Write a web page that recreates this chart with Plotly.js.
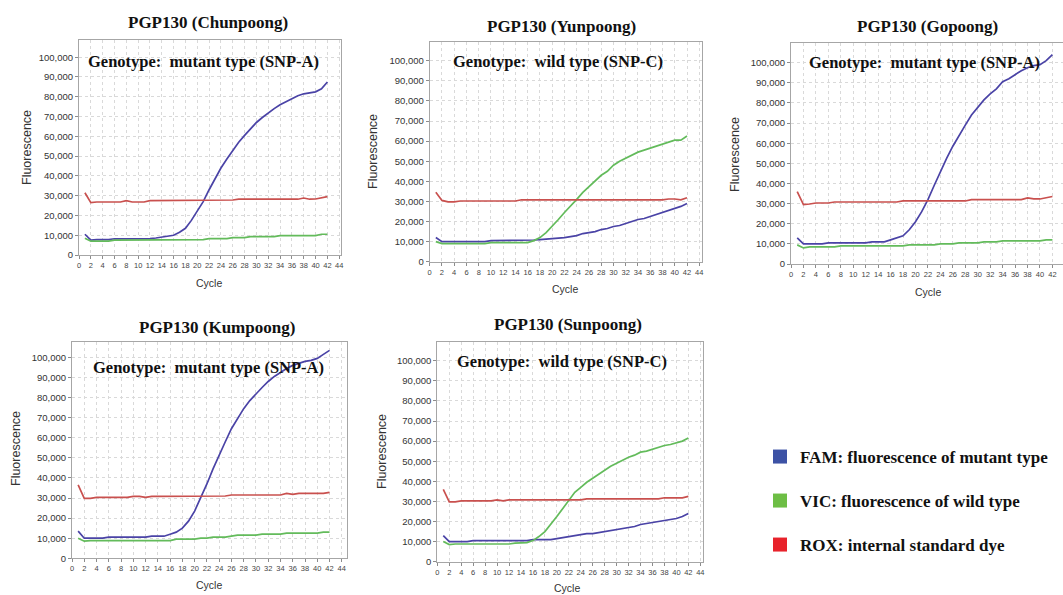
<!DOCTYPE html>
<html>
<head>
<meta charset="utf-8">
<script src="https://cdn.plot.ly/plotly-3.0.1.min.js"></script>
<style>html,body{margin:0;padding:0;background:#fff;}#chart{width:1063px;height:595px;}</style>
</head>
<body>
<div id="chart"></div>
<script>
// ---------- data ----------
const cycles = [1,2,3,4,5,6,7,8,9,10,11,12,13,14,15,16,17,18,19,20,21,22,23,24,25,26,27,28,29,30,31,32,33,34,35,36,37,38,39,40,41,42];

const panelTitles = ["PGP130 (Chunpoong)", "PGP130 (Yunpoong)", "PGP130 (Gopoong)", "PGP130 (Kumpoong)", "PGP130 (Sunpoong)"];
const genotypes = ["Genotype:&nbsp; mutant type (SNP-A)", "Genotype:&nbsp; wild type (SNP-C)", "Genotype:&nbsp; mutant type (SNP-A)", "Genotype:&nbsp; mutant type (SNP-A)", "Genotype:&nbsp; wild type (SNP-C)"];
const legendNames = ["FAM:&nbsp;fluorescence of mutant type", "VIC:&nbsp;fluorescence of wild type", "ROX:&nbsp;internal standard dye"];

// Chunpoong
const chunFAM = [10500,7500,7800,7800,7800,8200,8200,8200,8200,8200,8200,8300,8600,9000,9400,10000,11500,13500,17500,22000,27000,33000,38500,44000,48500,53000,57000,60500,64000,67000,69500,72000,74000,76000,77500,79000,80500,81500,82000,82500,84000,87500];
const chunVIC = [8500,7000,7000,7000,7000,7500,7500,7500,7500,7500,7500,7500,7500,7500,7500,7500,7800,7800,7800,7800,7800,8300,8300,8300,8300,8800,8800,8800,9300,9300,9300,9300,9300,9800,9800,9800,9800,9800,9800,9800,10500,10500];
const chunROX = [31500,26500,26800,26800,26800,26800,26800,27500,26800,26800,26800,27500,27500,27500,27500,27500,27500,27500,27500,27500,27500,27500,27500,27500,27500,27800,28200,28200,28200,28200,28200,28200,28200,28200,28200,28200,28200,28800,28200,28300,28800,29500];

// Yunpoong
const yunFAM = [12000,10000,10000,10000,10000,10000,10000,10000,10000,10500,10500,10500,10500,10500,10500,10500,10800,11000,11200,11500,11500,12000,12500,13000,14000,14500,15000,16000,16500,17500,18000,19000,20000,21000,21500,22500,23500,24500,25500,26500,27500,29000];
const yunVIC = [10000,9000,9000,9000,9000,9000,9000,9000,9000,9500,9500,9500,9500,9500,9500,9500,10500,12000,14500,17500,21000,24500,27500,31000,34500,37500,40000,43000,45000,48000,50000,51500,53000,54500,55500,56500,57500,58500,59500,60500,60500,62500];
const yunROX = [34500,30500,29800,29800,30200,30200,30200,30200,30200,30200,30200,30200,30200,30200,30800,30800,30800,30800,30800,30800,30800,30800,30800,30800,30800,30800,30800,30800,30800,30800,30800,30800,30800,30800,30800,30800,30800,30800,31200,31200,30800,31800];

// Gopoong
const goFAM = [13000,10000,10000,10000,10000,10500,10500,10500,10500,10500,10500,10500,11000,11000,11000,12000,13000,14000,17000,21000,26000,32000,39000,46000,52500,58500,64000,69000,74000,78000,81500,84500,87000,90500,92000,94000,96000,97500,98500,99000,101000,104000];
const goVIC = [9500,8000,8500,8500,8500,8500,8500,9000,9000,9000,9000,9000,9000,9000,9000,9000,9000,9000,9500,9500,9500,9500,9500,10000,10000,10000,10500,10500,10500,10500,11000,11000,11000,11500,11500,11500,11500,11500,11500,11500,12000,12000];
const goROX = [36000,29500,29800,30300,30300,30300,30800,30800,30800,30800,30800,30800,30800,30800,30800,30800,30800,31300,31300,31300,31300,31300,31300,31300,31300,31300,31300,31300,32000,32000,32000,32000,32000,32000,32000,32000,32000,32800,32300,32300,32800,33500];

// Kumpoong
const kumFAM = [13500,10000,10000,10000,10000,10500,10500,10500,10500,10500,10500,10500,11000,11000,11000,12000,13000,15000,18500,23500,30000,37000,44500,51500,58000,64500,69500,74500,78500,82000,85000,88000,90500,92500,94500,96000,97000,98000,98500,99500,101500,103500];
const kumVIC = [10000,8500,8800,8800,8800,8800,8800,8800,8800,8800,8800,8800,8800,8800,8800,8800,9500,9500,9500,9500,10000,10000,10500,10500,10500,11000,11500,11500,11500,11500,12000,12000,12000,12000,12500,12500,12500,12500,12500,12500,13000,13000];
const kumROX = [36500,29800,29800,30300,30300,30300,30300,30300,30300,30800,30800,30300,30800,30800,30800,30800,30800,30800,30800,30800,30800,30800,30800,30800,31000,31500,31500,31500,31500,31500,31500,31500,31500,31500,32300,31800,32300,32300,32300,32300,32300,32800];

// Sunpoong
const sunFAM = [13000,10000,10000,10000,10000,10500,10500,10500,10500,10500,10500,10500,10500,10500,10500,11000,11000,11000,11000,11500,12000,12500,13000,13500,14000,14000,14500,15000,15500,16000,16500,17000,17500,18500,19000,19500,20000,20500,21000,21500,22500,24000];
const sunVIC = [10000,8500,8800,8800,8800,8800,8800,8800,8800,8800,8800,8800,9200,9500,9500,10500,12500,15000,18500,22500,26500,30500,34500,37000,39500,41500,43500,45500,47500,49000,50500,52000,53000,54500,55000,56000,57000,57800,58300,59000,60000,61500];
const sunROX = [36000,29800,29800,30300,30300,30300,30300,30300,30300,30800,30300,30800,30800,30800,30800,30800,30800,30800,30800,30800,30800,30800,30800,30800,31300,31300,31300,31300,31300,31300,31300,31300,31300,31300,31300,31300,31300,31800,31800,31800,31800,32500];

// ---------- layout helpers ----------
const W = 1063, H = 595;
const fx = p => p / W;
const fy = p => 1 - p / H;

const lineColors = {FAM: '#4a43a6', VIC: '#63bb5b', ROX: '#c9504e'};
const legendColors = ['#3c52a5', '#6dbe45', '#e8222b'];

// panel geometry in pixels: [left, right, top, bottom], x range max, y range max
const panels = [
  {px: [79, 341, 40, 255], xmax: 44.3, ymax: 108700, fam: chunFAM, vic: chunVIC, rox: chunROX,
   title: [208, 23], geno: [203, 62], ylab: [27, 148], xlab: [209, 283]},
  {px: [429.7, 701.7, 41.7, 261.7], xmax: 44.4, ymax: 109450, fam: yunFAM, vic: yunVIC, rox: yunROX,
   title: [561, 27], geno: [558, 62], ylab: [373, 152], xlab: [565, 289]},
  {px: [791, 1063, 43.3, 264], xmax: 43.7, ymax: 109600, fam: goFAM, vic: goVIC, rox: goROX,
   title: [927, 27], geno: [924, 63], ylab: [735, 155], xlab: [928, 292]},
  {px: [72, 346.7, 341.7, 558.3], xmax: 44.8, ymax: 107800, fam: kumFAM, vic: kumVIC, rox: kumROX,
   title: [217, 327], geno: [208, 367], ylab: [16, 449], xlab: [209, 585]},
  {px: [437.3, 703.3, 341.7, 561.7], xmax: 44.5, ymax: 109450, fam: sunFAM, vic: sunVIC, rox: sunROX,
   title: [568, 325], geno: [562, 362], ylab: [382, 452], xlab: [567, 588]}
];

const traces = [];
const layout = {
  width: W, height: H,
  margin: {l: 0, r: 0, t: 0, b: 0},
  paper_bgcolor: '#ffffff',
  plot_bgcolor: '#ffffff',
  showlegend: true,
  annotations: []
};

const serif = 'Liberation Serif, Times New Roman, serif';
const sans = 'Liberation Sans, Arial, sans-serif';

panels.forEach((p, i) => {
  const n = i === 0 ? '' : String(i + 1);
  const xa = 'x' + n, ya = 'y' + n;
  [['FAM', p.fam], ['VIC', p.vic], ['ROX', p.rox]].forEach(([k, vals]) => {
    traces.push({
      type: 'scatter', mode: 'lines', x: cycles, y: vals,
      xaxis: xa, yaxis: ya, showlegend: false, name: k,
      line: {color: lineColors[k], width: 1.7}
    });
  });
  const common = {
    showgrid: true, gridcolor: '#d9d9d9', griddash: 'dot', gridwidth: 1,
    showline: true, linecolor: '#a6a6a6', linewidth: 1, mirror: true,
    ticks: 'outside', ticklen: 3, tickcolor: '#8c8c8c',
    zeroline: false, fixedrange: true
  };
  layout['xaxis' + n] = Object.assign({}, common, {
    domain: [fx(p.px[0]), fx(p.px[1])], anchor: ya,
    range: [0, p.xmax], tick0: 0, dtick: 2,
    tickfont: {family: sans, size: 7.5, color: '#444'}
  });
  layout['yaxis' + n] = Object.assign({}, common, {
    domain: [fy(p.px[3]), fy(p.px[2])], anchor: xa,
    range: [0, p.ymax], tick0: 0, dtick: 10000, tickformat: ',d',
    tickfont: {family: sans, size: 9.5, color: '#333'}
  });
  layout.annotations.push(
    {text: panelTitles[i], xref: 'paper', yref: 'paper', x: fx(p.title[0]), y: fy(p.title[1]),
     xanchor: 'center', yanchor: 'middle', showarrow: false,
     font: {family: serif, size: 17, color: '#111', weight: 'bold'}},
    {text: genotypes[i], xref: 'paper', yref: 'paper', x: fx(p.geno[0]), y: fy(p.geno[1]),
     xanchor: 'center', yanchor: 'middle', showarrow: false,
     font: {family: serif, size: 16.5, color: '#111', weight: 'bold'}},
    {text: 'Fluorescence', xref: 'paper', yref: 'paper', x: fx(p.ylab[0]), y: fy(p.ylab[1]),
     xanchor: 'center', yanchor: 'middle', showarrow: false, textangle: -90,
     font: {family: sans, size: 12.5, color: '#333'}},
    {text: 'Cycle', xref: 'paper', yref: 'paper', x: fx(p.xlab[0]), y: fy(p.xlab[1]),
     xanchor: 'center', yanchor: 'middle', showarrow: false,
     font: {family: sans, size: 10.5, color: '#333'}}
  );
});

// legend entries (three separate legends, one per row)
const legendRows = [457, 501, 545];
legendNames.forEach((nm, k) => {
  const lg = k === 0 ? 'legend' : 'legend' + (k + 1);
  traces.push({
    type: 'scatter', mode: 'markers', x: [null], y: [null], xaxis: 'x', yaxis: 'y',
    name: nm, legend: lg, showlegend: true,
    marker: {symbol: 'square', size: 14, color: legendColors[k]}
  });
  layout[lg] = {
    x: fx(760), y: fy(legendRows[k]), xanchor: 'left', yanchor: 'middle',
    bgcolor: 'rgba(0,0,0,0)', borderwidth: 0, itemsizing: 'trace', itemwidth: 30,
    font: {family: serif, size: 17, color: '#111', weight: 'bold'}
  };
});

Plotly.newPlot('chart', traces, layout, {staticPlot: true, displayModeBar: false});
</script>
</body>
</html>
